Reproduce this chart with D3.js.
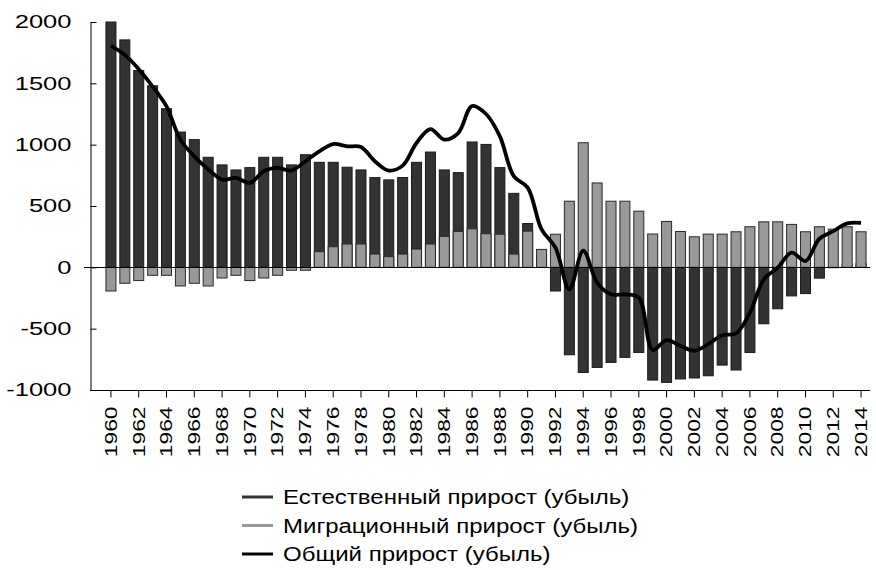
<!DOCTYPE html>
<html>
<head>
<meta charset="utf-8">
<title>Прирост населения</title>
<script src="https://d3js.org/d3.v7.min.js"></script>
<style>
body { margin: 0; background: #fff; }
text { font-family: "Liberation Sans", Arial, sans-serif; fill: #000; }
</style>
</head>
<body>
<div id="chart"></div>
<script>
// categories
var years = [1960, 1961, 1962, 1963, 1964, 1965, 1966, 1967, 1968, 1969,
             1970, 1971, 1972, 1973, 1974, 1975, 1976, 1977, 1978, 1979,
             1980, 1981, 1982, 1983, 1984, 1985, 1986, 1987, 1988, 1989,
             1990, 1991, 1992, 1993, 1994, 1995, 1996, 1997, 1998, 1999,
             2000, 2001, 2002, 2003, 2004, 2005, 2006, 2007, 2008, 2009,
             2010, 2011, 2012, 2013, 2014];

// natural increase (dark bars)
var natural = [2000, 1854, 1604, 1480, 1293, 1103, 1041, 897, 835, 794,
               813, 897, 897, 835, 918, 856, 856, 816, 794, 732,
               713, 732, 856, 940, 794, 772, 1022, 1002, 813, 603,
               357, 105, -193, -713, -857, -816, -775, -734, -694, -919,
               -938, -910, -902, -884, -797, -837, -694, -460, -338, -233,
               -214, -88, -3, 20, 30];

// migration increase (grey bars)
var migration = [-193, -130, -108, -65, -65, -152, -130, -152, -87, -65,
                 -108, -87, -65, -24, -24, 127, 168, 190, 190, 108,
                 87, 108, 149, 190, 252, 293, 314, 274, 270, 108,
                 295, 146, 270, 539, 1016, 688, 539, 539, 458, 272,
                 374, 292, 249, 271, 271, 290, 331, 371, 371, 350,
                 290, 331, 311, 331, 290];

// total increase (line)
var total = [1805, 1732, 1615, 1474, 1312, 1041, 905, 800, 715, 729,
             688, 783, 810, 789, 865, 946, 1005, 986, 981, 865,
             789, 829, 1014, 1127, 1041, 1095, 1315, 1250, 1068, 743,
             650, 309, 160, -180, 135, -124, -220, -220, -247, -674,
             -593, -640, -680, -626, -553, -539, -369, -98, -3, 119,
             51, 233, 295, 358, 363];

var yTicks = [-1000, -500, 0, 500, 1000, 1500, 2000];
var xTicks = [1960, 1962, 1964, 1966, 1968, 1970, 1972, 1974, 1976, 1978,
              1980, 1982, 1984, 1986, 1988, 1990, 1992, 1994, 1996, 1998,
              2000, 2002, 2004, 2006, 2008, 2010, 2012, 2014];

var legendLabels = ["Естественный прирост (убыль)",
                    "Миграционный прирост (убыль)",
                    "Общий прирост (убыль)"];
var legendColors = ["#333333", "#999999", "#000000"];

var svg = d3.select("#chart").append("svg")
    .attr("width", 876)
    .attr("height", 570);

var x = d3.scaleBand().domain(years).range([104, 868])
    .paddingInner(0.28).paddingOuter(0.14);
var y = d3.scaleLinear().domain([-1000, 2000]).range([390, 22]);

// the source font is much wider than Arial, stretch the glyphs
function stretch(sel, k) {
  sel.each(function() {
    var w = this.getComputedTextLength();
    d3.select(this).attr("textLength", w * k).attr("lengthAdjust", "spacingAndGlyphs");
  });
}

// dark bars (natural)
svg.append("g").selectAll("rect")
  .data(years)
  .enter().append("rect")
    .attr("x", function(d) { return x(d); })
    .attr("width", x.bandwidth())
    .attr("y", function(d, i) { return y(Math.max(0, natural[i])); })
    .attr("height", function(d, i) { return Math.abs(y(natural[i]) - y(0)); })
    .attr("fill", "#333333")
    .attr("stroke", "#1a1a1a")
    .attr("stroke-width", 1);

// grey bars (migration) drawn over
svg.append("g").selectAll("rect")
  .data(years)
  .enter().append("rect")
    .attr("x", function(d) { return x(d); })
    .attr("width", x.bandwidth())
    .attr("y", function(d, i) { return y(Math.max(0, migration[i])); })
    .attr("height", function(d, i) { return Math.abs(y(migration[i]) - y(0)); })
    .attr("fill", "#999999")
    .attr("stroke", "#2a2a2a")
    .attr("stroke-width", 1);

// zero line
svg.append("line")
    .attr("x1", 84).attr("x2", 870)
    .attr("y1", Math.round(y(0)) + 0.5).attr("y2", Math.round(y(0)) + 0.5)
    .attr("stroke", "#000").attr("stroke-width", 1);

// y axis
var yAxis = svg.append("g")
    .attr("transform", "translate(90.5,0)")
    .call(d3.axisLeft(y).tickValues(yTicks)
      .tickFormat(function(d) { return String(d); })
      .tickSizeInner(-6).tickSizeOuter(0).tickPadding(19));
yAxis.select(".domain").attr("stroke", "#000");
yAxis.selectAll(".tick line").attr("stroke", "#000");
yAxis.selectAll("text")
    .style("font-size", "18.5px")
    .attr("fill", "#000")
    .call(stretch, 1.38);

// x axis
svg.append("line")
    .attr("x1", 90).attr("x2", 870)
    .attr("y1", 390.5).attr("y2", 390.5)
    .attr("stroke", "#000");

var xAxis = svg.append("g")
    .attr("transform", "translate(0,390.5)")
    .call(d3.axisBottom(x).tickValues(xTicks).tickSizeInner(7).tickSizeOuter(0));
xAxis.select(".domain").remove();
xAxis.selectAll(".tick line").attr("stroke", "#000");
xAxis.selectAll("text")
    .style("font-size", "16.5px")
    .style("text-anchor", "end")
    .attr("fill", "#000")
    .attr("transform", "rotate(-90)")
    .attr("x", -16)
    .attr("y", 0)
    .attr("dy", "0.35em")
    .call(stretch, 1.38);

// total line
var line = d3.line()
    .x(function(d, i) { return x(years[i]) + x.bandwidth() / 2; })
    .y(function(d) { return y(d); })
    .curve(d3.curveCatmullRom);

svg.append("path")
    .datum(total)
    .attr("d", line)
    .attr("fill", "none")
    .attr("stroke", "#000")
    .attr("stroke-width", 3.8)
    .attr("stroke-linejoin", "round");

// legend
var legend = svg.append("g").selectAll("g")
  .data(legendLabels)
  .enter().append("g")
    .attr("transform", function(d, i) { return "translate(242," + (497 + i * 28.5) + ")"; });

legend.append("line")
    .attr("x1", 0).attr("x2", 31)
    .attr("stroke", function(d, i) { return legendColors[i]; })
    .attr("stroke-width", 3);

legend.append("text")
    .attr("x", 41)
    .attr("dy", "0.35em")
    .style("font-size", "20px")
    .text(function(d) { return d; })
    .call(stretch, 1.2);
</script>
</body>
</html>
